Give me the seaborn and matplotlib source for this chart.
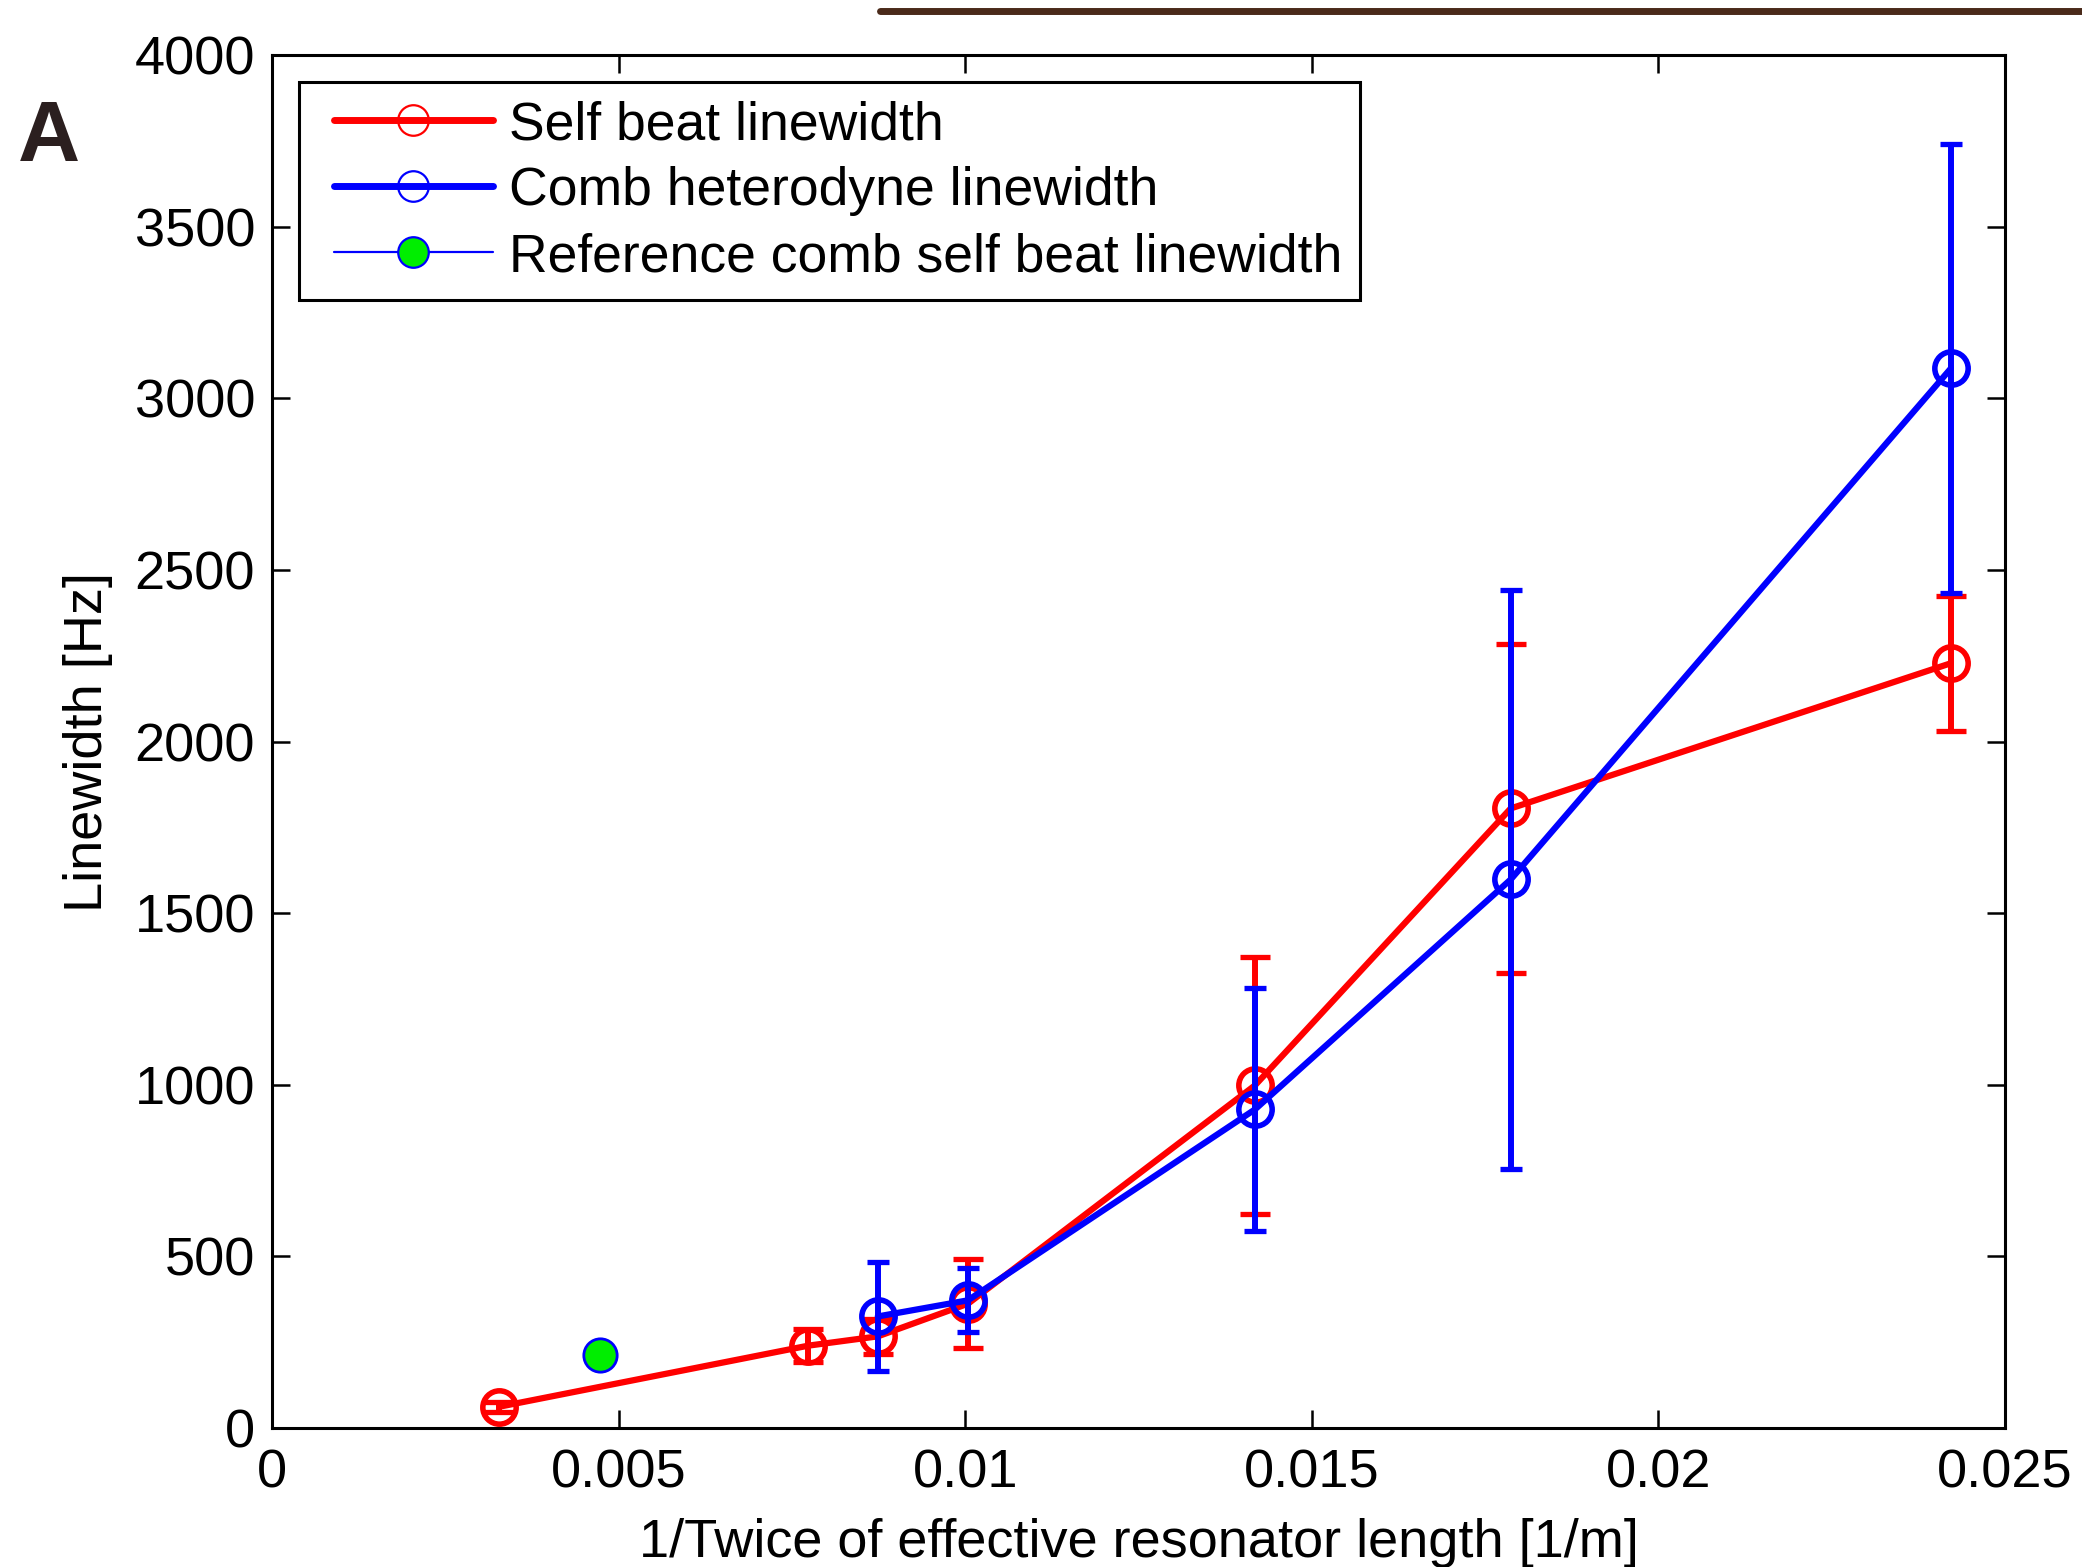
import matplotlib
matplotlib.use("Agg")
import matplotlib.pyplot as plt
from matplotlib.lines import Line2D
from matplotlib.legend_handler import HandlerLine2D
import seaborn as sns

# 数据
x_self = [0.00328, 0.00774, 0.00874, 0.01004, 0.01418, 0.01787, 0.02422]
y_self = [62, 240, 267, 362, 998, 1805, 2228]
err_self = [15, 48, 52, 130, 375, 478, 197]

x_comb = [0.00874, 0.01004, 0.01418, 0.01787, 0.02422]
y_comb = [325, 372, 928, 1598, 3087]
err_comb = [160, 93, 353, 843, 654]

x_ref = [0.00473]
y_ref = [213]

x_ticks = [0, 0.005, 0.01, 0.015, 0.02, 0.025]
x_ticklabels = ['0', '0.005', '0.01', '0.015', '0.02', '0.025']
y_ticks = [0, 500, 1000, 1500, 2000, 2500, 3000, 3500, 4000]

legend_labels = ['Self beat linewidth', 'Comb heterodyne linewidth',
                 'Reference comb self beat linewidth']

sns.set_theme(style="white")
plt.rcParams['font.family'] = ['Liberation Sans', 'DejaVu Sans']
plt.rcParams['text.color'] = 'black'
plt.rcParams['axes.labelcolor'] = 'black'

fig = plt.figure(figsize=(20.82, 15.67), dpi=100)
ax = fig.add_axes([0.1306, 0.0887, 0.963 - 0.1306, 0.9649 - 0.0887])

# 红色：自拍频线宽
ax.errorbar(x_self, y_self, yerr=err_self, fmt='none', ecolor='red',
            elinewidth=4.3, capsize=11, capthick=3.8, zorder=2)
sns.lineplot(x=x_self, y=y_self, ax=ax, color='red', linewidth=4.5,
             marker='o', markersize=24, markerfacecolor='none',
             markeredgecolor='red', markeredgewidth=4.0, zorder=2.1)

# 蓝色：梳外差线宽
ax.errorbar(x_comb, y_comb, yerr=err_comb, fmt='none', ecolor='blue',
            elinewidth=4.3, capsize=8, capthick=3.8, zorder=3)
sns.lineplot(x=x_comb, y=y_comb, ax=ax, color='blue', linewidth=4.5,
             marker='o', markersize=24, markerfacecolor='none',
             markeredgecolor='blue', markeredgewidth=4.0, zorder=3.1)

# 参考梳
ax.plot(x_ref, y_ref, linestyle='none', marker='o', markersize=24,
        markerfacecolor='#00ee00', markeredgecolor='blue',
        markeredgewidth=2.0, zorder=4)

ax.set_xlim(0, 0.025)
ax.set_ylim(0, 4000)
ax.set_xticks(x_ticks)
ax.set_xticklabels(x_ticklabels)
ax.set_yticks(y_ticks)
ax.tick_params(axis='both', which='both', direction='in', length=13,
               width=1.8, labelsize=39, top=True, right=True,
               bottom=True, left=True, colors='black', labelcolor='black',
               pad=12)
ax.tick_params(axis='x', pad=15)
for s in ax.spines.values():
    s.set_linewidth(2.2)
    s.set_color('black')
    s.set_visible(True)

ax.set_xlabel('1/Twice of effective resonator length [1/m]', fontsize=39,
              labelpad=14)
ax.set_ylabel('Linewidth [Hz]', fontsize=39, labelpad=16)

handles = [
    Line2D([], [], color='red', linewidth=5, marker='o', markersize=22,
           markerfacecolor='none', markeredgecolor='red', markeredgewidth=1.6),
    Line2D([], [], color='blue', linewidth=5, marker='o', markersize=22,
           markerfacecolor='none', markeredgecolor='blue', markeredgewidth=1.6),
    Line2D([], [], color='blue', linewidth=1.6, marker='o', markersize=22,
           markerfacecolor='#00ee00', markeredgecolor='blue', markeredgewidth=1.6),
]
leg = ax.legend(handles, legend_labels, loc='upper left',
                bbox_to_anchor=(0.0156, 0.980), borderaxespad=0,
                fontsize=38.5, frameon=True, fancybox=False, framealpha=1,
                edgecolor='black', handlelength=3.3, handletextpad=0.3,
                labelspacing=0.3, borderpad=0.33,
                handler_map={Line2D: HandlerLine2D(xpad=0.32)})
leg.get_frame().set_linewidth(2.2)

# 面板标记和顶部装饰线
fig.text(0.0086, 0.937, 'A', fontsize=62, fontweight='heavy',
         color='#2b1f1f', ha='left', va='top')
fig.add_artist(Line2D([880 / 2082, 1.0], [1 - 11 / 1567, 1 - 11 / 1567],
                      transform=fig.transFigure, color='#4a2a1a',
                      linewidth=5))

fig.savefig('out.png', dpi=100)
